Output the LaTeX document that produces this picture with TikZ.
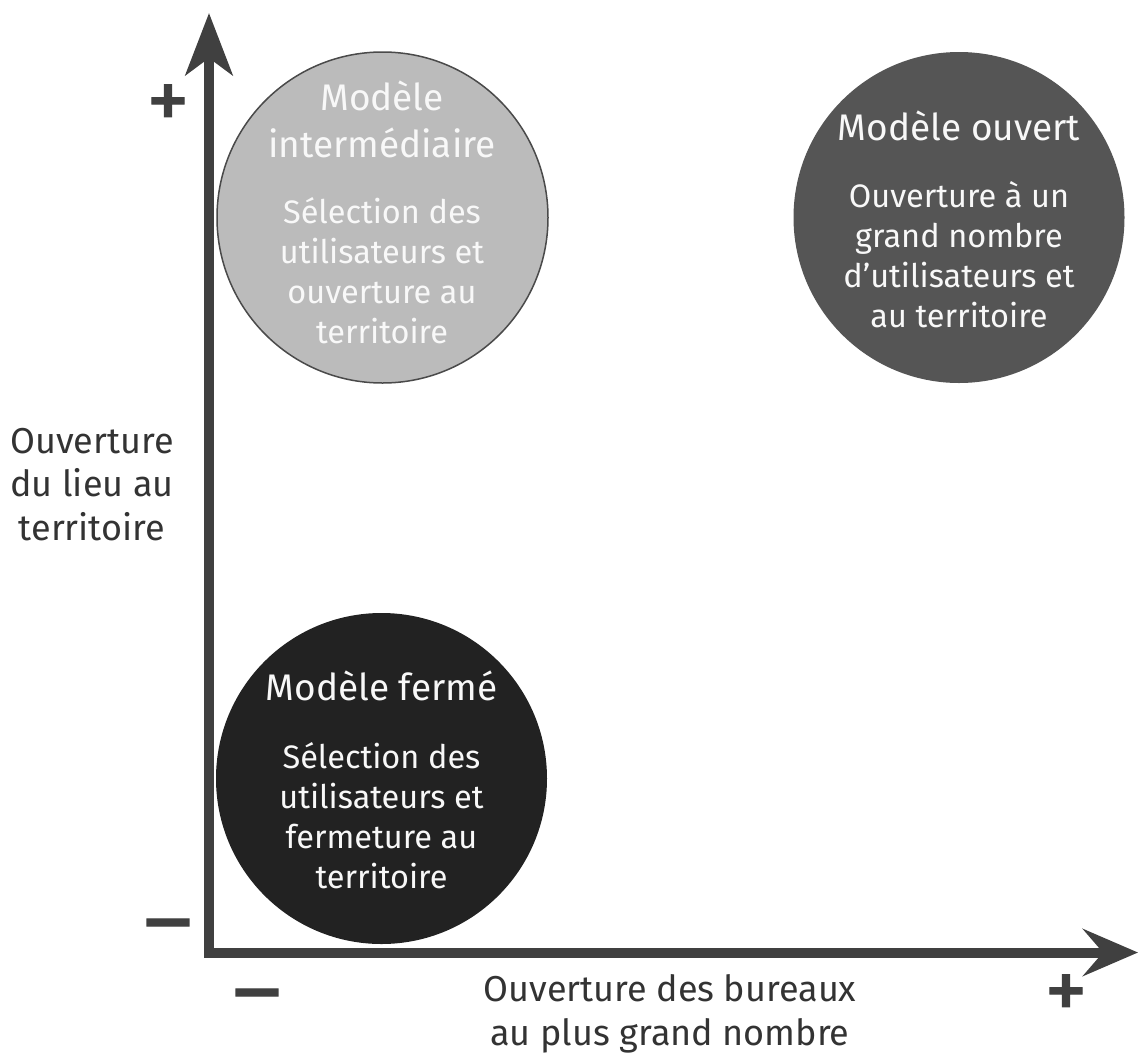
\documentclass[tikz,border=0pt]{standalone}
\usepackage{fontspec}
\setmainfont{Fira Sans}
\usetikzlibrary{arrows.meta}
\definecolor{axisgray}{HTML}{404040}
\definecolor{labelgray}{HTML}{333333}
\definecolor{lightfill}{HTML}{BBBBBB}
\definecolor{lightedge}{HTML}{4A4A4A}
\definecolor{midfill}{HTML}{555555}
\definecolor{darkfill}{HTML}{222222}
\definecolor{softwhite}{HTML}{F8F8F8}
\begin{document}
\begin{tikzpicture}[x=1pt,y=-1pt,
  axis/.style={draw=axisgray,line width=10pt,line join=miter},
  disc/.style={circle,minimum size=331pt,inner sep=0pt},
  ctitle/.style={text=softwhite,align=center,inner sep=0pt,anchor=base,font=\fontsize{37}{47}\selectfont},
  cbody/.style={text=softwhite,align=center,inner sep=0pt,anchor=base,font=\fontsize{32.5}{40}\selectfont},
  axlabel/.style={text=labelgray,align=center,inner sep=0pt,anchor=base,font=\fontsize{36}{43.5}\selectfont},
  signplus/.style={text=axisgray,inner sep=0pt,font=\fontsize{86}{86}\selectfont\addfontfeature{FakeBold=1.2}},
  signminus/.style={text=axisgray,inner sep=0pt,font=\fontsize{92}{92}\selectfont\addfontfeature{FakeBold=1.2}}]
\useasboundingbox (0,0) rectangle (1138,1053);
% axes
\coordinate (ytip) at (209,13);
\coordinate (origin) at (209,952.5);
\coordinate (xtip) at (1138,952.5);
\draw[axis,{Stealth[length=62pt,width=47pt,inset=17pt]}-{Stealth[length=55pt,width=47pt,inset=20pt]}] (ytip) -- (origin) -- (xtip);
% circles
\node[disc,fill=lightfill,draw=lightedge,line width=1.5pt] (inter) at (382.5,217.5) {};
\node[disc,fill=midfill] (ouvert) at (959,217.5) {};
\node[disc,fill=darkfill] (ferme) at (381.5,778.5) {};
% circle texts (anchor = baseline of last line)
\node[ctitle] (intertitle) at (382,157) {Modèle\\intermédiaire};
\node[cbody] (interbody) at (382,343) {Sélection des\\utilisateurs et\\ouverture au\\territoire};
\node[ctitle] (ouverttitle) at (959,140) {Modèle ouvert};
\node[cbody] (ouvertbody) at (959,327) {Ouverture à un\\grand nombre\\d’utilisateurs et\\au territoire};
\node[ctitle] (fermetitle) at (381.5,700) {Modèle fermé};
\node[cbody] (fermebody) at (381.5,888) {Sélection des\\utilisateurs et\\fermeture au\\territoire};
% axis labels
\node[axlabel] (ylabel) at (92,540) {Ouverture\\du lieu au\\territoire};
\node[axlabel] (xlabel) at (670,1045) {Ouverture des bureaux\\au plus grand nombre};
% signs
\node[signplus] (yplus) at (168,107) {+};
\node[signminus] (yminus) at (168,935) {–};
\node[signminus] (xminus) at (257,1005) {–};
\node[signplus] (xplus) at (1066,997) {+};
\end{tikzpicture}
\end{document}
